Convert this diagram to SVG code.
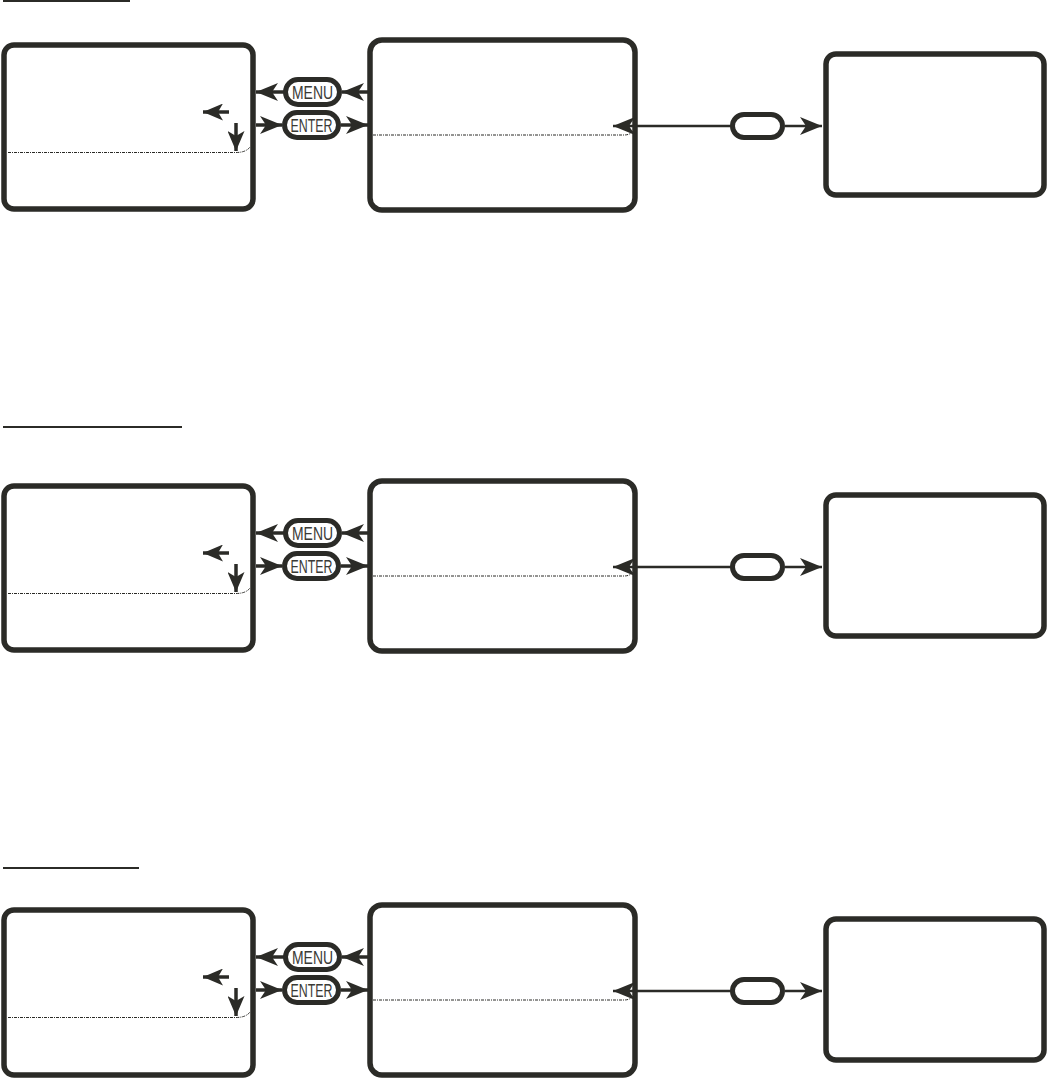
<svg xmlns="http://www.w3.org/2000/svg" width="1048" height="1080" viewBox="0 0 1048 1080">
<defs>
<style>
.box{fill:#fff;stroke:#2b2b27;stroke-width:5.5}
.btn{fill:#fff;stroke:#2b2b27;stroke-width:5}
.btxt{font-family:"Liberation Sans",Arial,sans-serif;font-size:19px;fill:#3a3a36;text-anchor:middle}
.dot{fill:none;stroke:#2b2b27;stroke-width:1;stroke-dasharray:3 1 1 1}
.con{fill:none;stroke:#2b2b27;stroke-width:3.5}
.thin{fill:none;stroke:#2b2b27;stroke-width:2.5}
.ul{stroke:#2b2b27;stroke-width:2}
</style>
<marker id="ah" viewBox="0 0 22 18" refX="22" refY="9" markerWidth="22" markerHeight="18" markerUnits="userSpaceOnUse" orient="auto">
<path d="M0,0 L22,9 L0,18 L6,9 z" fill="#2b2b27"/>
</marker>
<marker id="ahs" viewBox="0 0 20 17" refX="20" refY="8.5" markerWidth="20" markerHeight="17" markerUnits="userSpaceOnUse" orient="auto">
<path d="M0,0 L20,8.5 L0,17 L5,8.5 z" fill="#2b2b27"/>
</marker>
</defs>
<rect width="1048" height="1080" fill="#fff"/>

<!-- underlines -->
<line class="ul" x1="3" y1="1" x2="130" y2="1"/>
<line class="ul" x1="3" y1="427" x2="182" y2="427"/>
<line class="ul" x1="3" y1="868" x2="139" y2="868"/>

<!-- Section 1 -->
<g id="s1-boxA"><rect class="box" x="4" y="45" width="249" height="164" rx="10"/><path class="dot" d="M8,152.5 H236 Q246,152.5 250,147"/></g>
<g id="s1-boxB"><rect class="box" x="370" y="40" width="265" height="170" rx="12"/><path class="dot" d="M373,135 H624 Q630,135 633,131"/></g>
<g id="s1-boxC"><rect class="box" x="826" y="54" width="218" height="141" rx="10"/></g>
<g id="s1-menu"><rect class="btn" x="285.5" y="79.5" width="54" height="25" rx="12.5"/><text class="btxt" x="312.5" y="99" textLength="41" lengthAdjust="spacingAndGlyphs">MENU</text></g>
<g id="s1-enter"><rect class="btn" x="284.5" y="112.5" width="54" height="25" rx="12.5"/><text class="btxt" x="311.5" y="132" textLength="42" lengthAdjust="spacingAndGlyphs">ENTER</text></g>
<g id="s1-oval"><rect class="btn" x="732.5" y="114.5" width="50" height="23" rx="11.5"/></g>

<!-- Section 2 -->
<g id="s2-boxA"><rect class="box" x="4" y="486" width="249" height="164" rx="10"/><path class="dot" d="M8,593.5 H236 Q246,593.5 250,588"/></g>
<g id="s2-boxB"><rect class="box" x="370" y="481" width="265" height="170" rx="12"/><path class="dot" d="M373,576 H624 Q630,576 633,572"/></g>
<g id="s2-boxC"><rect class="box" x="826" y="495" width="218" height="141" rx="10"/></g>
<g id="s2-menu"><rect class="btn" x="285.5" y="520.5" width="54" height="25" rx="12.5"/><text class="btxt" x="312.5" y="540" textLength="41" lengthAdjust="spacingAndGlyphs">MENU</text></g>
<g id="s2-enter"><rect class="btn" x="284.5" y="553.5" width="54" height="25" rx="12.5"/><text class="btxt" x="311.5" y="573" textLength="42" lengthAdjust="spacingAndGlyphs">ENTER</text></g>
<g id="s2-oval"><rect class="btn" x="732.5" y="555.5" width="50" height="23" rx="11.5"/></g>

<!-- Section 3 -->
<g id="s3-boxA"><rect class="box" x="4" y="910" width="249" height="165" rx="10"/><path class="dot" d="M8,1017.5 H236 Q246,1017.5 250,1012"/></g>
<g id="s3-boxB"><rect class="box" x="370" y="905" width="265" height="170" rx="12"/><path class="dot" d="M373,1000 H624 Q630,1000 633,996"/></g>
<g id="s3-boxC"><rect class="box" x="826" y="919" width="218" height="141" rx="10"/></g>
<g id="s3-menu"><rect class="btn" x="285.5" y="944.5" width="54" height="25" rx="12.5"/><text class="btxt" x="312.5" y="964" textLength="41" lengthAdjust="spacingAndGlyphs">MENU</text></g>
<g id="s3-enter"><rect class="btn" x="284.5" y="977.5" width="54" height="25" rx="12.5"/><text class="btxt" x="311.5" y="997" textLength="42" lengthAdjust="spacingAndGlyphs">ENTER</text></g>
<g id="s3-oval"><rect class="btn" x="732.5" y="979.5" width="50" height="23" rx="11.5"/></g>

<g id="connectors">
<!-- section 1 -->
<line class="con" x1="368" y1="92" x2="342" y2="92" marker-end="url(#ah)"/>
<line class="con" x1="284" y1="92" x2="256" y2="92" marker-end="url(#ah)"/>
<line class="con" x1="256" y1="125" x2="282" y2="125" marker-end="url(#ah)"/>
<line class="con" x1="341" y1="125" x2="368" y2="125" marker-end="url(#ah)"/>
<line class="thin" x1="732" y1="126" x2="613" y2="126" marker-end="url(#ah)"/>
<line class="thin" x1="785" y1="126" x2="822" y2="126" marker-end="url(#ah)"/>
<line class="con" x1="229" y1="112" x2="203" y2="112" marker-end="url(#ahs)"/>
<line class="con" x1="236" y1="123" x2="236" y2="151" marker-end="url(#ahs)"/>
<!-- section 2 -->
<line class="con" x1="368" y1="533" x2="342" y2="533" marker-end="url(#ah)"/>
<line class="con" x1="284" y1="533" x2="256" y2="533" marker-end="url(#ah)"/>
<line class="con" x1="256" y1="566" x2="282" y2="566" marker-end="url(#ah)"/>
<line class="con" x1="341" y1="566" x2="368" y2="566" marker-end="url(#ah)"/>
<line class="thin" x1="732" y1="567" x2="613" y2="567" marker-end="url(#ah)"/>
<line class="thin" x1="785" y1="567" x2="822" y2="567" marker-end="url(#ah)"/>
<line class="con" x1="229" y1="553" x2="203" y2="553" marker-end="url(#ahs)"/>
<line class="con" x1="236" y1="564" x2="236" y2="592" marker-end="url(#ahs)"/>
<!-- section 3 -->
<line class="con" x1="368" y1="957" x2="342" y2="957" marker-end="url(#ah)"/>
<line class="con" x1="284" y1="957" x2="256" y2="957" marker-end="url(#ah)"/>
<line class="con" x1="256" y1="990" x2="282" y2="990" marker-end="url(#ah)"/>
<line class="con" x1="341" y1="990" x2="368" y2="990" marker-end="url(#ah)"/>
<line class="thin" x1="732" y1="991" x2="613" y2="991" marker-end="url(#ah)"/>
<line class="thin" x1="785" y1="991" x2="822" y2="991" marker-end="url(#ah)"/>
<line class="con" x1="229" y1="977" x2="203" y2="977" marker-end="url(#ahs)"/>
<line class="con" x1="236" y1="988" x2="236" y2="1016" marker-end="url(#ahs)"/>
</g>
</svg>
